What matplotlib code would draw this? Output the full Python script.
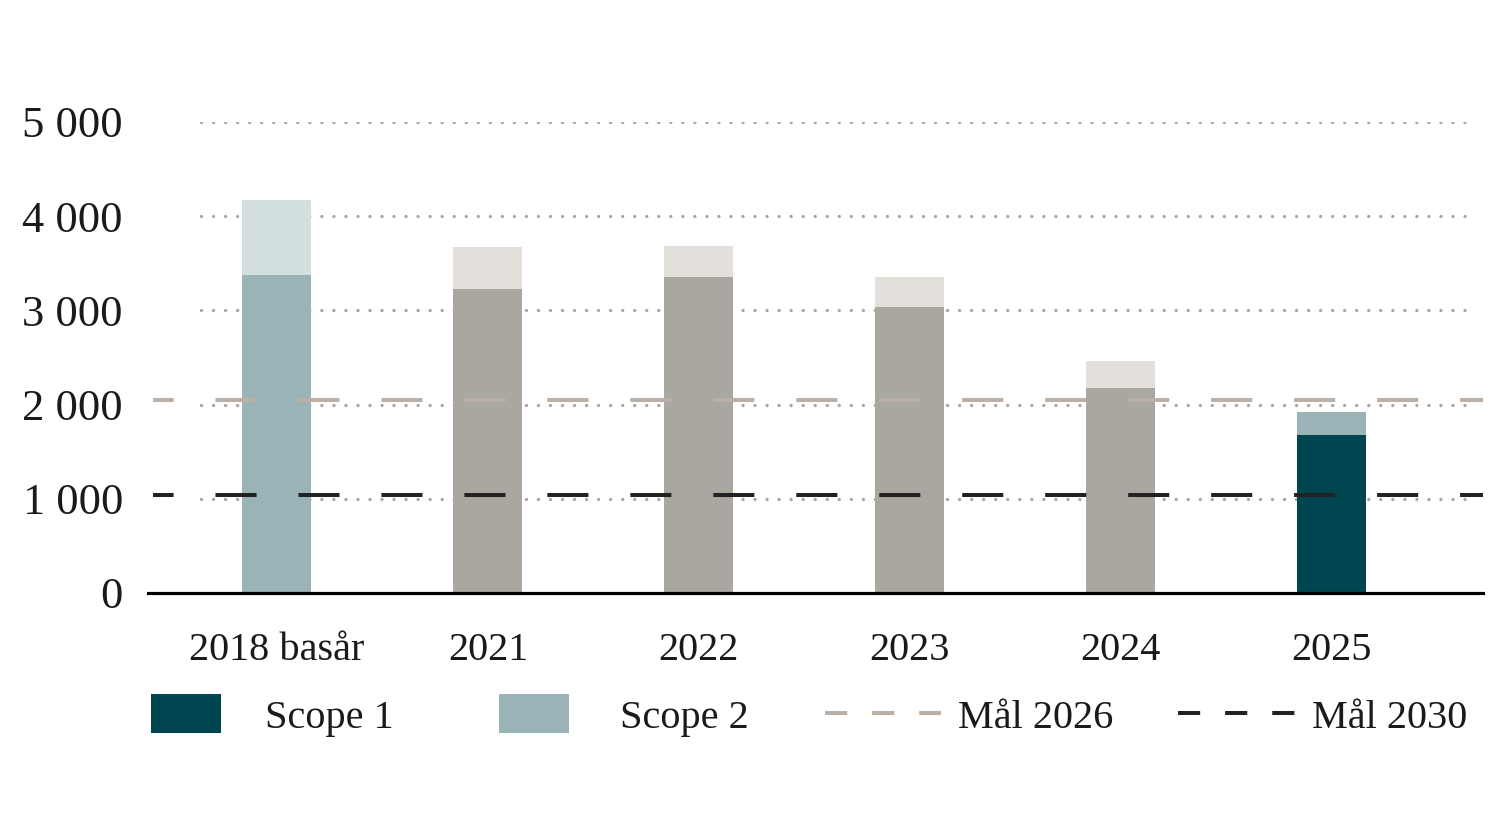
import matplotlib
matplotlib.use("Agg")
import matplotlib.pyplot as plt
from matplotlib.patches import Rectangle
from matplotlib.lines import Line2D

# data (tonnes CO2e)
categories = ["2018 basår", "2021", "2022", "2023", "2024", "2025"]
lowerValues = [3380, 3230, 3355, 3035, 2180, 1675]
totalValues = [4170, 3675, 3685, 3355, 2465, 1925]
target2026 = 2050
target2030 = 1045
yTicks = [0, 1000, 2000, 3000, 4000, 5000]
yTickLabels = ["0", "1 000", "2 000", "3 000", "4 000", "5 000"]

lowerColors = ["#9ab3b6", "#aaa7a1", "#aaa7a1", "#aaa7a1", "#aaa7a1", "#004650"]
upperColors = ["#d4dfe0", "#e3e0dc", "#e3e0dc", "#e3e0dc", "#e3e0dc", "#9ab3b6"]
scope1Color = "#004650"
scope2Color = "#9ab3b6"
goal26Color = "#bbb0a7"
goal30Color = "#222222"
gridColor = "#a9a6a2"

plt.rcParams["font.family"] = ["Liberation Serif", "DejaVu Serif"]
fontSize = 29

fig = plt.figure(figsize=(15, 8.21), dpi=100)
ax = fig.add_axes([148 / 1500, 1 - 593 / 821, (1483 - 148) / 1500, (593 - 122) / 821])

xPos = list(range(len(categories)))
upperParts = [t - l for t, l in zip(totalValues, lowerValues)]
barWidth = 0.327

# dotted gridlines (round dots about 12 px apart)
for yVal in yTicks[1:]:
    ax.plot([-0.36, 5.64], [yVal, yVal], color=gridColor, lw=2.4,
            linestyle=(0, (0.01, 3.6)), dash_capstyle="round", zorder=1)

ax.bar(xPos, lowerValues, width=barWidth, color=lowerColors, zorder=2, linewidth=0)
ax.bar(xPos, upperParts, bottom=lowerValues, width=barWidth, color=upperColors,
       zorder=2, linewidth=0)

# target lines
ax.axhline(target2026, xmin=0.004, xmax=1, color=goal26Color, lw=2.9,
           linestyle=(20.5 / 2.9 * 0.72, (10.2, 10.4)), zorder=3)
ax.axhline(target2030, xmin=0.004, xmax=1, color=goal30Color, lw=2.9,
           linestyle=(20.5 / 2.9 * 0.72, (10.2, 10.4)), zorder=3)

ax.axhline(0, color="black", lw=2.3, zorder=4, clip_on=False)

ax.set_xlim(-0.611, 5.716)
ax.set_ylim(0, 5000)
ax.set_xticks(xPos)
ax.set_xticklabels(categories, fontsize=fontSize, color="#1a1a1a")
ax.set_yticks(yTicks)
ax.set_yticklabels(yTickLabels, fontsize=32, color="#1a1a1a")
ax.tick_params(axis="x", length=0, pad=28)
ax.tick_params(axis="y", length=0, pad=18)
for spine in ax.spines.values():
    spine.set_visible(False)

# legend drawn by hand to match the irregular spacing
legY = 1 - 713 / 821
textY = 1 - 718 / 821
def figX(px):
    return px / 1500

for left, color in [(151, scope1Color), (499, scope2Color)]:
    fig.add_artist(Rectangle((figX(left), 1 - 733 / 821), 70 / 1500, 39 / 821,
                             transform=fig.transFigure, color=color, lw=0))
for left, right, color in [(825, 941, goal26Color), (1178, 1296, goal30Color)]:
    fig.add_artist(Line2D([figX(left), figX(right)], [legY, legY], transform=fig.transFigure,
                          color=color, lw=2.9, linestyle=(0, (5.5, 6.2))))
for left, label in [(265, "Scope 1"), (620, "Scope 2"), (958, "Mål 2026"), (1312, "Mål 2030")]:
    fig.text(figX(left), textY, label, fontsize=fontSize, color="#1a1a1a",
             ha="left", va="center")

fig.savefig("out.png", dpi=100)
